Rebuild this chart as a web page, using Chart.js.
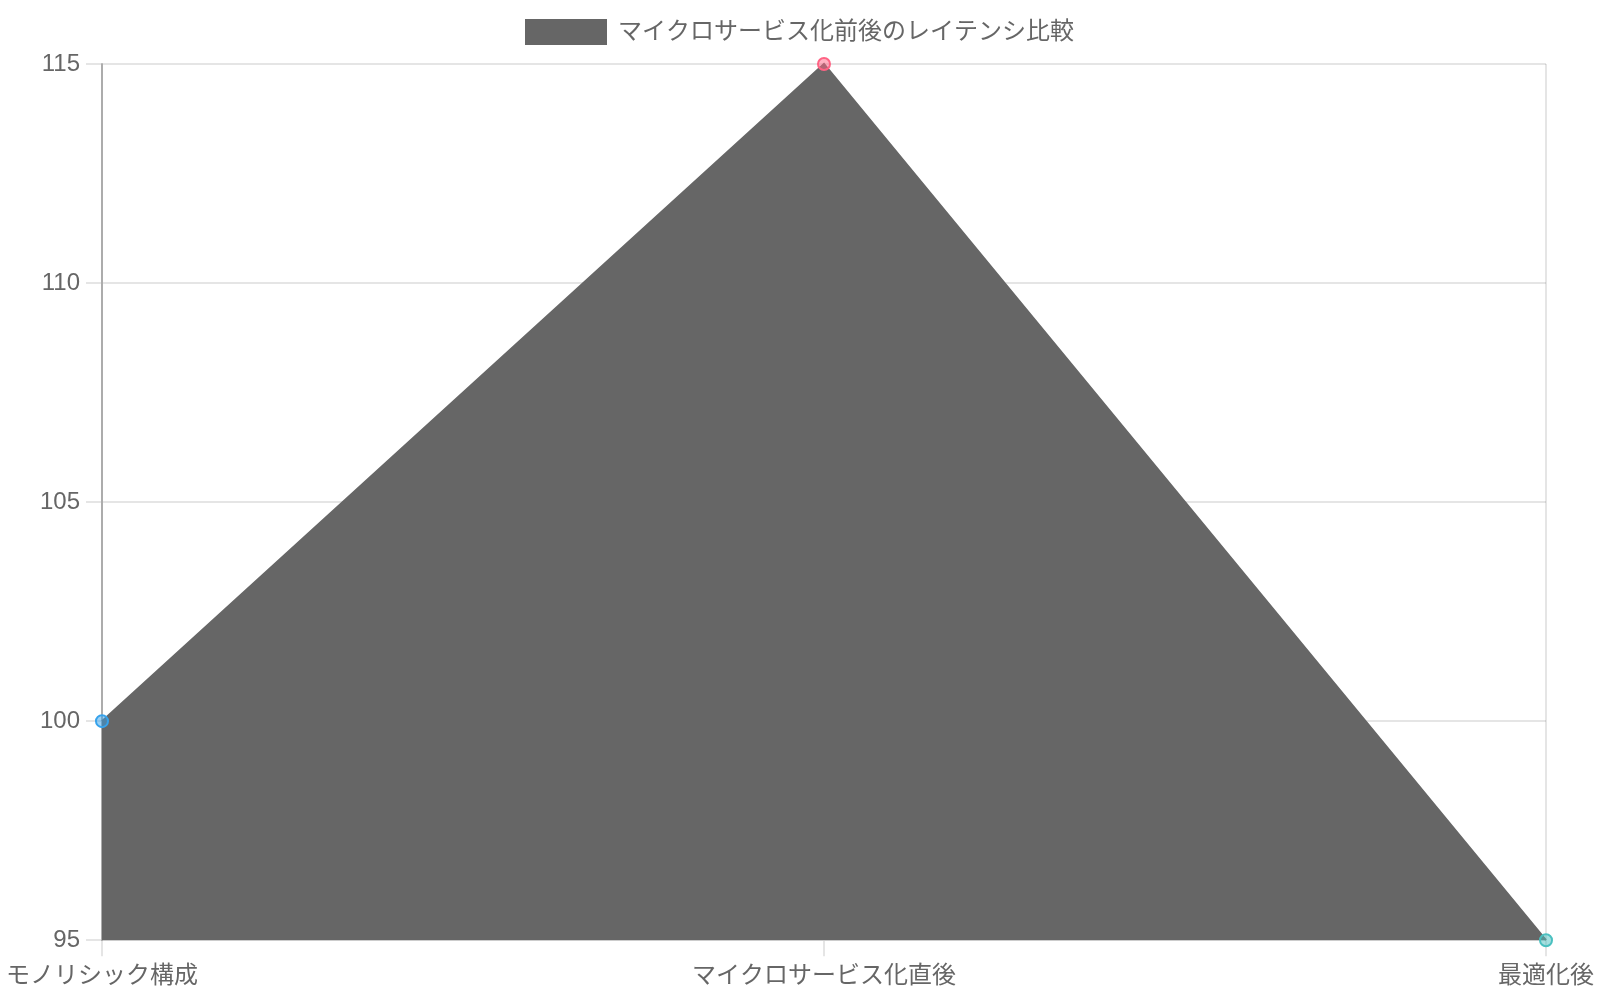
<!DOCTYPE html>
<html>
<head>
<meta charset="utf-8">
<script src="https://cdn.jsdelivr.net/npm/chart.js@4"></script>
<style>
  html, body { margin: 0; padding: 0; background: #fff; }
  .wrap { position: relative; width: 1600px; height: 1000px; }
</style>
</head>
<body>
<div class="wrap"><canvas id="latencyChart"></canvas></div>
<script>
const stages = ["モノリシック構成", "マイクロサービス化直後", "最適化後"];
const latency = [100, 115, 95];
const yTicks = [95, 100, 105, 110, 115];
const pointFill = ["rgba(54, 162, 235, 0.5)", "rgba(255, 99, 132, 0.5)", "rgba(75, 192, 192, 0.5)"];
const pointLine = ["rgba(54, 162, 235, 1)", "rgba(255, 99, 132, 1)", "rgba(75, 192, 192, 1)"];

// a bit more room under the legend
const legendGap = {
    id: "legendGap",
    beforeInit(chart) {
        const fit = chart.legend.fit;
        chart.legend.fit = function() {
            fit.bind(chart.legend)();
            this.height += 10;
        };
    },
};

document.addEventListener("DOMContentLoaded", function() {
    Chart.defaults.font.family = "'Liberation Sans', 'Noto Sans CJK JP', sans-serif";
    Chart.defaults.font.size = 24;
    Chart.defaults.color = "#666";

    const ctx = document.getElementById("latencyChart").getContext("2d");
    new Chart(ctx, {
        type: "line",
        data: {
            labels: stages,
            datasets: [{
                label: "マイクロサービス化前後のレイテンシ比較",
                data: latency,
                fill: true,
                clip: false,
                backgroundColor: "#666666",
                borderColor: "#666666",
                borderWidth: 2,
                pointBackgroundColor: pointFill,
                pointBorderColor: pointLine,
                pointBorderWidth: 2,
                pointRadius: 6,
            }],
        },
        plugins: [legendGap],
        options: {
            responsive: true,
            maintainAspectRatio: false,
            animation: false,
            layout: { padding: { bottom: 3 } },
            plugins: {
                legend: {
                    labels: {
                        boxWidth: 80,
                        boxHeight: 24,
                        padding: 20,
                    },
                },
            },
            scales: {
                x: {
                    grid: { lineWidth: 2, tickLength: 16 },
                    border: { width: 2 },
                    ticks: { padding: 6 },
                },
                y: {
                    min: yTicks[0],
                    max: yTicks[yTicks.length - 1],
                    grid: { lineWidth: 2, tickLength: 16 },
                    border: { width: 2, color: "rgba(0, 0, 0, 0.25)" },
                    ticks: { stepSize: yTicks[1] - yTicks[0], padding: 6 },
                },
            },
        },
    });
});
</script>
</body>
</html>
